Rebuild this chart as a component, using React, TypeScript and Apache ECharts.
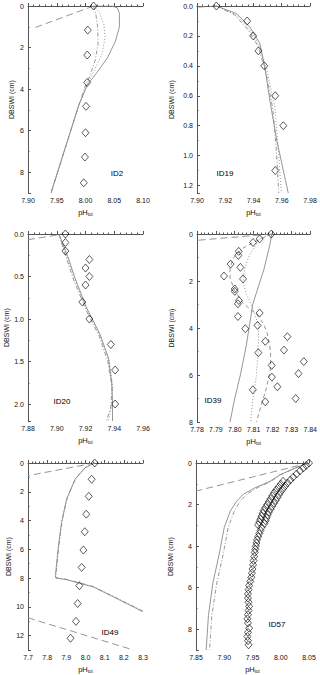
import React, { useEffect, useRef } from 'react';
import * as echarts from 'echarts';

// ---------- DATA (pH_tot, depth cm) ----------
// ID2
const id2Obs = [[8.014, 0], [8.004, 1.16], [8.003, 2.36], [8.003, 3.68], [8.001, 4.83], [8.0, 6.1], [7.999, 7.27], [7.997, 8.51]];
const id2Solid = [[8.014, 0], [8.045, 0], [8.055, 0.08], [8.059, 0.35], [8.059, 1.0], [8.052, 1.7], [8.038, 2.5], [8.02, 3.2], [8.003, 3.8], [7.988, 4.8], [7.94, 9.0]];
const id2Dotted = [[8.014, 0], [8.024, 0.3], [8.032, 0.9], [8.034, 1.5], [8.029, 2.3], [8.015, 3.1], [8.003, 3.8], [7.988, 4.8], [7.94, 9.0]];
const id2DashDot = [[8.014, 0], [8.018, 0.4], [8.021, 1.0], [8.022, 1.8], [8.017, 2.6], [8.007, 3.4], [7.999, 3.9], [7.988, 4.8], [7.94, 9.0]];
const id2LongDash = [[8.014, 0], [7.912, 1.04]];

// ID19
const id19Obs = [[7.9137, 0], [7.9355, 0.1], [7.9398, 0.2], [7.9435, 0.3], [7.9476, 0.4], [7.9554, 0.6], [7.9611, 0.8], [7.9554, 1.1]];
const id19Solid = [[7.9137, 0], [7.9279, 0.05], [7.9374, 0.14], [7.9445, 0.25], [7.948, 0.41], [7.9516, 0.63], [7.9563, 0.89], [7.9646, 1.25]];
const id19DashDot = [[7.9137, 0], [7.9267, 0.06], [7.9362, 0.16], [7.9433, 0.27], [7.949, 0.45], [7.9537, 0.69], [7.956, 0.94], [7.9579, 1.25]];
const id19Dotted = [[7.9137, 0], [7.9272, 0.055], [7.9367, 0.15], [7.9438, 0.26], [7.9495, 0.43], [7.955, 0.67], [7.9574, 0.94], [7.9597, 1.25]];
const id19LongDash = [[7.9137, 0], [7.9, 0.008]];

// ID20
const id20Obs = [[7.906, 0], [7.906, 0.1], [7.906, 0.2], [7.9227, 0.3], [7.92, 0.4], [7.9227, 0.5], [7.92, 0.6], [7.9178, 0.8], [7.9227, 1.0], [7.9376, 1.3], [7.9406, 1.6], [7.9406, 2.0]];
const id20Solid = [[7.9017, 0.008], [7.9045, 0.125], [7.908, 0.28], [7.9127, 0.52], [7.9208, 0.87], [7.9301, 1.18], [7.936, 1.46], [7.9383, 1.77], [7.9388, 2.0], [7.9388, 2.2]];
const id20DashDot = [[7.9017, 0.008], [7.9038, 0.13], [7.907, 0.3], [7.912, 0.55], [7.9205, 0.9], [7.9295, 1.2], [7.9355, 1.5], [7.9385, 1.8], [7.9375, 2.05], [7.9345, 2.2]];
const id20Dotted = [[7.9017, 0.008], [7.904, 0.13], [7.9075, 0.29], [7.9125, 0.53], [7.9207, 0.88], [7.93, 1.19], [7.9362, 1.48], [7.939, 1.78], [7.9385, 2.0], [7.936, 2.2]];
const id20LongDash = [[7.88, 0.067], [7.9017, 0.008]];

// ID39
const id39Obs = [[7.8194, 0], [7.8132, 0.21], [7.8097, 0.36], [7.8021, 0.74], [7.8019, 0.91], [7.7978, 1.28], [7.803, 1.42], [7.7943, 1.79], [7.8044, 1.91], [7.8, 2.34], [7.8, 2.44], [7.8022, 2.83], [7.8017, 2.97], [7.8132, 3.36], [7.8017, 3.51], [7.8121, 3.89], [7.8056, 4.03], [7.8279, 4.37], [7.8162, 4.57], [7.8261, 4.94], [7.8125, 5.05], [7.8366, 5.43], [7.8196, 5.59], [7.8338, 5.94], [7.8197, 6.09], [7.8226, 6.5], [7.8096, 6.63], [7.8323, 7.0], [7.8162, 7.14]];
const id39Solid = [[7.8197, 0], [7.8185, 0.5], [7.8155, 1.5], [7.8115, 2.5], [7.8095, 3.0], [7.8082, 3.7], [7.806, 4.8], [7.803, 6.0], [7.8, 7.0], [7.7975, 8.0]];
const id39Dotted = [[7.8194, 0], [7.8132, 0.21], [7.8079, 0.88], [7.8053, 1.45], [7.8044, 2.02], [7.8062, 2.58], [7.8088, 3.0], [7.8128, 3.93], [7.8123, 5.06], [7.8114, 6.06], [7.8096, 7.05], [7.8084, 8.0]];
const id39Dashed = [[7.8194, 0], [7.8114, 0.3], [7.8044, 0.6], [7.7994, 1.0], [7.7975, 1.45], [7.7975, 1.87], [7.7999, 2.4], [7.8044, 2.95], [7.8114, 3.4], [7.8155, 3.85], [7.8175, 4.3], [7.819, 5.0], [7.819, 5.7], [7.817, 6.5], [7.814, 7.3], [7.8115, 8.0]];
const id39LongDash = [[7.8194, 0], [7.78, 0.27]];

// ID49
const id49Obs = [[8.048, 0], [8.032, 1.13], [8.017, 2.32], [8.004, 3.56], [7.996, 4.78], [7.989, 6.05], [7.98, 7.26], [7.968, 8.53], [7.959, 9.77], [7.95, 11.01], [7.922, 12.18]];
const id49Solid = [[8.048, 0], [7.997, 0.34], [7.945, 1.15], [7.901, 2.53], [7.875, 4.14], [7.857, 5.98], [7.843, 7.82], [7.845, 8.0], [7.901, 8.11], [8.041, 8.62], [8.164, 9.43], [8.3, 10.34]];
const id49DashDot = [[8.048, 0], [8.0, 0.3], [7.95, 1.05], [7.905, 2.4], [7.878, 4.0], [7.86, 5.9], [7.846, 7.8], [7.848, 7.98], [7.9, 8.08], [8.04, 8.58], [8.165, 9.4], [8.3, 10.3]];
const id49LongDashTop = [[8.048, 0], [7.7, 0.88]];
const id49LongDashBottom = [[7.7, 10.76], [8.25, 13.0]];

// ID57
const id57ObsTop = [[8.05, 0], [8.045, 0.12], [8.04, 0.24], [8.034, 0.38], [8.028, 0.53]];
const id57ObsOuter = [[8.022, 0.68], [8.017, 0.82], [8.012, 0.96], [8.008, 1.1], [8.004, 1.24], [8.0, 1.38], [7.997, 1.52], [7.994, 1.66], [7.991, 1.8], [7.988, 1.94], [7.985, 2.08], [7.982, 2.22], [7.979, 2.36], [7.977, 2.5], [7.975, 2.64], [7.973, 2.78], [7.971, 2.92]];
const id57ObsInner = [[8.004, 0.88], [8.0, 1.02], [7.996, 1.16], [7.992, 1.3], [7.988, 1.44], [7.985, 1.58], [7.982, 1.72], [7.979, 1.86], [7.976, 2.0], [7.973, 2.14], [7.97, 2.28], [7.968, 2.42], [7.966, 2.56], [7.964, 2.7], [7.962, 2.84], [7.96, 2.98]];
const id57ObsDeep = [[7.966, 3.1], [7.964, 3.25], [7.962, 3.4], [7.96, 3.55], [7.958, 3.7], [7.957, 3.85], [7.956, 4.0], [7.955, 4.15], [7.954, 4.3], [7.953, 4.5], [7.952, 4.7], [7.951, 4.9], [7.95, 5.1], [7.949, 5.3], [7.948, 5.5], [7.946, 5.7], [7.944, 5.9], [7.943, 6.1], [7.942, 6.3], [7.942, 6.5], [7.943, 6.7], [7.944, 6.9], [7.943, 7.1], [7.942, 7.3], [7.941, 7.5], [7.942, 7.7], [7.944, 7.95], [7.942, 8.15], [7.941, 8.35], [7.942, 8.55], [7.943, 8.75]];
const id57Solid = [[8.048, 0], [8.025, 0.25], [7.999, 0.56], [7.981, 0.88], [7.954, 1.2], [7.934, 1.5], [7.922, 1.84], [7.911, 2.3], [7.9, 3.1], [7.891, 4.4], [7.88, 5.75], [7.872, 7.35], [7.868, 9.0]];
const id57DashDot = [[8.048, 0], [8.026, 0.25], [8.0, 0.56], [7.983, 0.88], [7.958, 1.2], [7.94, 1.5], [7.928, 1.84], [7.918, 2.3], [7.907, 3.1], [7.898, 4.4], [7.887, 5.75], [7.878, 7.35], [7.874, 9.0]];
const id57LongDash = [[8.05, 0], [7.85, 1.35]];

// panel labels and axis settings
const panelLabels = ['ID2', 'ID19', 'ID20', 'ID39', 'ID49', 'ID57'];
const xMins = [7.9, 7.9, 7.88, 7.78, 7.7, 7.85];
const xMaxs = [8.1, 7.98, 7.96, 7.84, 8.3, 8.05];
const xIntervals = [0.05, 0.02, 0.02, 0.01, 0.1, 0.05];
const xDecimals = [2, 2, 2, 2, 1, 2];
const yMaxs = [9, 1.25, 2.2, 8, 13, 9];
const yIntervals = [2, 0.2, 0.5, 2, 2, 2];
const yDecimals = [0, 1, 1, 0, 0, 0];

const FONT = 'Liberation Sans, Arial, Helvetica, sans-serif';
const GREY = '#8a8a8a';

const grids = [
  { left: 28, top: 6, width: 115, height: 187 },
  { left: 197, top: 6, width: 113, height: 187 },
  { left: 28, top: 234, width: 115, height: 187 },
  { left: 197, top: 234, width: 115, height: 188 },
  { left: 28, top: 463, width: 115, height: 188 },
  { left: 196, top: 463, width: 113, height: 188 },
];
const labelPos = [[117, 173], [225, 173], [62, 401], [213, 400], [110, 632], [277, 624]];
const nameGaps = [13, 22, 13, 22, 13, 22];

const dashes: Record<string, any> = {
  solid: 'solid',
  dotted: [1, 2],
  dashdot: [4, 2, 1, 2],
  dashed: [4, 3],
  longdash: [7, 4],
};

function fmt(v: number, interval: number, dec: number) {
  const r = v / interval;
  if (Math.abs(r - Math.round(r)) > 1e-6) return '';
  return v.toFixed(dec);
}

export default function App() {
  const ref = useRef<HTMLDivElement>(null);
  useEffect(() => {
    if (!ref.current) return;
    const chart = echarts.init(ref.current, null, { renderer: 'svg' });

    const panels: any[] = [
      { obs: [id2Obs], lines: [[id2Solid, 'solid'], [id2Dotted, 'dotted'], [id2DashDot, 'dashdot'], [id2LongDash, 'longdash']] },
      { obs: [id19Obs], lines: [[id19Solid, 'solid'], [id19Dotted, 'dotted'], [id19DashDot, 'dashdot'], [id19LongDash, 'longdash']] },
      { obs: [id20Obs], lines: [[id20Solid, 'solid'], [id20Dotted, 'dotted'], [id20DashDot, 'dashdot'], [id20LongDash, 'longdash']] },
      { obs: [id39Obs], lines: [[id39Solid, 'solid'], [id39Dotted, 'dotted'], [id39Dashed, 'dashed'], [id39LongDash, 'longdash']] },
      { obs: [id49Obs], lines: [[id49Solid, 'solid'], [id49DashDot, 'dashdot'], [id49LongDashTop, 'longdash'], [id49LongDashBottom, 'longdash']] },
      { obs: [id57ObsTop, id57ObsOuter, id57ObsInner, id57ObsDeep], lines: [[id57Solid, 'solid'], [id57DashDot, 'dashdot'], [id57LongDash, 'longdash']] },
    ];

    const xAxes: any[] = [];
    const yAxes: any[] = [];
    const series: any[] = [];
    panels.forEach((p, i) => {
      xAxes.push({
        type: 'value', gridIndex: i, min: xMins[i], max: xMaxs[i], interval: xIntervals[i],
        name: '{a|pH}{b|tot}', nameLocation: 'middle', nameGap: 15,
        nameTextStyle: {
          rich: {
            a: { fontSize: 7.5, fontFamily: FONT, color: '#111', lineHeight: 9, verticalAlign: 'top' },
            b: { fontSize: 4.5, fontFamily: FONT, color: '#111', lineHeight: 3, verticalAlign: 'bottom' },
          },
        },
        axisLine: { show: true, lineStyle: { color: '#555', width: 1 } },
        axisTick: { show: true, inside: true, length: 3, lineStyle: { color: '#555' } },
        minorTick: { show: true, splitNumber: 5, length: 1.5, lineStyle: { color: '#555' } },
        splitLine: { show: false },
        axisLabel: {
          fontSize: 7, fontFamily: FONT, color: '#111', margin: 4,
          formatter: (v: number) => fmt(v, xIntervals[i], xDecimals[i]),
        },
      });
      yAxes.push({
        type: 'value', gridIndex: i, min: 0, max: yMaxs[i], interval: yIntervals[i], inverse: true,
        name: 'DBSWI (cm)', nameLocation: 'middle', nameGap: nameGaps[i],
        nameTextStyle: { fontSize: 7, fontFamily: FONT, color: '#111' },
        axisLine: { show: true, lineStyle: { color: '#555', width: 1 } },
        axisTick: { show: true, inside: true, length: 3, lineStyle: { color: '#555' } },
        minorTick: { show: true, splitNumber: 2, length: 1.5, lineStyle: { color: '#555' } },
        splitLine: { show: false },
        axisLabel: {
          fontSize: 7, fontFamily: FONT, color: '#111', margin: 4,
          formatter: (v: number) => fmt(v, yIntervals[i], yDecimals[i]),
        },
      });
      p.lines.forEach(([data, kind]: any) => {
        series.push({
          type: 'line', xAxisIndex: i, yAxisIndex: i, data, symbol: 'none', clip: true,
          lineStyle: { color: GREY, width: 0.9, type: dashes[kind] },
          silent: true, z: 2,
        });
      });
      p.obs.forEach((obs: any) => {
        series.push({
          type: 'scatter', xAxisIndex: i, yAxisIndex: i, data: obs, symbol: 'diamond', symbolSize: [7, 8],
          itemStyle: { color: 'rgba(0,0,0,0)', borderColor: '#000', borderWidth: 0.8 },
          z: 3, clip: false,
        });
      });
    });

    const graphic = panelLabels.map((t, i) => ({
      type: 'text', x: labelPos[i][0], y: labelPos[i][1],
      style: { text: t, fontSize: 8, fontFamily: FONT, fill: '#000', textAlign: 'center', textVerticalAlign: 'middle' },
    }));

    chart.setOption({
      animation: false,
      backgroundColor: '#fff',
      grid: grids.map((g) => ({ ...g, containLabel: false })),
      xAxis: xAxes,
      yAxis: yAxes,
      series,
      graphic,
    });
    return () => chart.dispose();
  }, []);
  return <div ref={ref} style={{ position: 'absolute', left: 0, top: 0, width: 320, height: 675 }} />;
}
